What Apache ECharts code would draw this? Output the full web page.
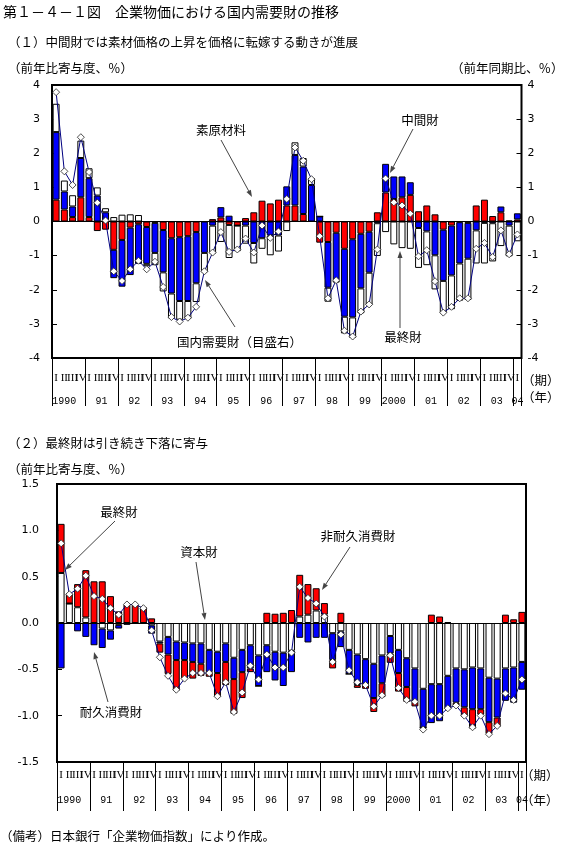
<!DOCTYPE html>
<html><head><meta charset="utf-8">
<script src="https://cdn.jsdelivr.net/npm/echarts@6/dist/echarts.min.js"></script>
<style>html,body{margin:0;padding:0;background:#fff}#c{width:577px;height:847px}</style>
</head><body><div id="c"></div>
<script>
// ---- data ----
const yearLabels = ['1990','91','92','93','94','95','96','97','98','99','2000','01','02','03','04'];
const quarterLabels = ['I','II','III','IV'];
const yTicks1 = [-4,-3,-2,-1,0,1,2,3,4];
const yTicks2 = [-1.5,-1.0,-0.5,0.0,0.5,1.0,1.5];

// panel (1): contributions to domestic demand goods (% pts)
const rawMaterials = [0.64,0.35,0.13,0.71, 0.13,-0.28,-0.24,-0.83, -0.54,-0.18,-0.08,-0.16, -0.04,-0.25,-0.49,-0.46, -0.43,-0.31,0,0.07, 0.12,-0.1,-0.12,0.1, 0.27,0.61,0.53,0.64, 0.47,0.47,0.22,0, -0.62,-0.6,-0.33,-0.8, -0.52,-0.36,-0.3,0.27, 0.85,0.66,0.71,0.78, 0.3,0.47,0.21,-0.24, -0.12,-0.02,-0.04,0.47, 0.64,0.16,0.27,0.03, 0.06];
const intermediate = [1.98,0.53,0.31,1.15, 1.14,0.76,0.27,-0.83, -1.37,-1.39,-1.16,-1.08, -0.88,-1.24,-1.62,-1.87, -1.9,-1.5,-0.92,-0.12, 0.3,0.17,0,-0.12, -0.63,-0.49,-0.41,-0.41, 0.56,1.48,1.39,1.07, 0.15,-1.34,-1.39,-1.99, -2.29,-1.6,-1.2,-0.05, 0.84,0.66,0.61,0.37, -0.19,-0.29,-0.99,-1.5, -1.46,-1.21,-1.05,-0.26, -0.04,-0.05,0.17,-0.12, 0.18];
const finalGoods1 = [0.83,0.32,0.33,0.51, 0.29,0.24,0.12,0.13, 0.2,0.21,0.19,-0.07, -0.36,-0.56,-0.73,-0.55, -0.52,-0.55,-0.57,-0.82, -0.6,-0.97,-0.75,-0.53, -0.6,-0.31,-0.58,-0.47, -0.28,0.37,0.25,0.2, 0,-0.41,-0.07,-0.49, -0.6,-0.73,-0.95,-0.96, -0.31,-0.67,-0.78,-0.8, -1.17,-0.99,-1.0,-0.94, -0.99,-1.09,-1.21,-0.97, -1.19,-1.12,-0.72,-0.9, -0.58];
const domesticDemand = [3.79,1.47,1.07,2.47, 1.45,0.55,0.03,-1.46, -1.74,-1.4,-1.15,-1.4, -1.18,-1.92,-2.8,-2.93, -2.82,-2.5,-1.46,-0.91, -0.31,-0.89,-0.82,-0.5, -0.91,-0.12,-0.48,-0.29, 0.66,2.17,1.78,1.24, -0.43,-2.25,-1.72,-3.2, -3.37,-2.64,-2.43,-0.82, 1.26,0.56,0.47,0.23, -1.02,-0.84,-1.75,-2.67, -2.5,-2.25,-2.25,-0.8, -0.63,-1.04,-0.26,-0.96, -0.38];

// panel (2): contributions to final goods (% pts)
const capitalGoods = [0.54,0.21,0.17,0.06, 0,-0.06,-0.08,-0.02, 0,0,0,-0.025, -0.2,-0.15,-0.2,-0.21, -0.22,-0.22,-0.29,-0.31, -0.22,-0.375,-0.29,-0.24, -0.35,-0.24,-0.31,-0.32, -0.3,0.07,0.09,0.135, 0.09,-0.11,-0.09,-0.29, -0.34,-0.39,-0.44,-0.35, -0.14,-0.29,-0.38,-0.49, -0.71,-0.66,-0.66,-0.57, -0.49,-0.5,-0.48,-0.49, -0.59,-0.6,-0.49,-0.48, -0.42];
const durableGoods = [-0.49,0,-0.09,-0.15, -0.24,-0.21,-0.1,-0.04, -0.02,-0.01,0,-0.09, -0.02,-0.19,-0.2,-0.19, -0.2,-0.22,-0.24,-0.23, -0.2,-0.23,-0.24,-0.25, -0.33,-0.29,-0.31,-0.36, -0.23,-0.16,-0.21,-0.16, -0.16,-0.29,-0.17,-0.26, -0.33,-0.27,-0.37,-0.3, -0.19,-0.25,-0.31,-0.36, -0.42,-0.42,-0.4,-0.36, -0.37,-0.41,-0.45,-0.44, -0.48,-0.42,-0.35,-0.38, -0.3];
const nonDurableGoods = [0.53,0.11,0.25,0.51, 0.45,0.45,0.29,0.125, 0.2,0.2,0.17,0.05, -0.1,-0.21,-0.33,-0.2, -0.18,-0.13,-0.05,-0.26, -0.25,-0.375,-0.28,-0.04, 0,0.11,0.1,0.11, 0.14,0.45,0.33,0.24, 0.125,-0.09,0.11,0, -0.03,-0.05,-0.15,-0.15, -0.1,-0.2,-0.16,-0.05, 0,0.09,0.07,0.01, -0.03,-0.1,-0.21,-0.06, -0.125,-0.1,0.09,0.04, 0.12];
const finalGoods2 = [0.86,0.31,0.37,0.51, 0.29,0.26,0.16,0.09, 0.2,0.2,0.16,-0.08, -0.37,-0.57,-0.72,-0.6, -0.54,-0.54,-0.54,-0.79, -0.64,-0.96,-0.75,-0.46, -0.61,-0.34,-0.48,-0.48, -0.32,0.39,0.27,0.21, 0.07,-0.42,-0.125,-0.51, -0.64,-0.67,-0.9,-0.78, -0.35,-0.7,-0.83,-0.85, -1.15,-1.0,-1.0,-0.92, -0.89,-1.0,-1.125,-1.0, -1.2,-1.11,-0.76,-0.83, -0.61];

// ---- build ----
const categories = [];
yearLabels.forEach(y => quarterLabels.forEach(q => { if (categories.length < 57) categories.push(y + '-' + q); }));

const JP = '"Noto Sans CJK JP"';
const chart = echarts.init(document.getElementById('c'), null, {renderer: 'canvas'});

function yearFmt(v, i) {
  const y = yearLabels[Math.floor(i / 4)];
  if (i === categories.length - 1 && i % 4 === 0) return '{b|' + y + '}';
  if (i % 4 !== 1) return '';
  return y.length > 2 ? '{b|' + y + '}' : '{a|' + y + '}';
}
function qAxis(grid, margin, tickLen) {
  return {gridIndex: grid, type: 'category', data: categories, position: 'bottom',
    axisLine: {show: false, onZero: false},
    axisTick: {show: true, interval: (i) => i % 4 === 0, length: tickLen, lineStyle: {color: '#000', width: 1}},
    axisLabel: {interval: 0, margin: margin, formatter: (v, i) => quarterLabels[i % 4],
      fontFamily: 'Liberation Serif', fontSize: 11, color: '#000'},
    splitLine: {show: false}};
}
function yAxisLbl(grid, margin) {
  return {gridIndex: grid, type: 'category', data: categories, position: 'bottom',
    axisLine: {show: false, onZero: false}, axisTick: {show: false}, splitLine: {show: false},
    axisLabel: {interval: 0, margin: margin, formatter: yearFmt, fontFamily: 'Liberation Mono', fontSize: 10, color: '#000',
      rich: {a: {padding: [0, 0, 0, 8.24], fontFamily: 'Liberation Mono', fontSize: 10, color: '#000'},
             b: {fontFamily: 'Liberation Mono', fontSize: 10, color: '#000'}}}};
}
function valAxis(grid, pos, min, max, interval, margin, fmt, ticks) {
  return {gridIndex: grid, type: 'value', position: pos, min: min, max: max, interval: interval,
    axisLine: {show: false, onZero: false}, splitLine: {show: false},
    axisTick: {show: ticks, inside: true, length: 5, lineStyle: {color: '#000'}},
    axisLabel: {margin: margin, fontFamily: 'DejaVu Sans', fontSize: 11, color: '#000', formatter: fmt}};
}
function bar(name, data, color, xi, yi, mark) {
  const s = {name: name, type: 'bar', data: data, stack: 's' + xi, xAxisIndex: xi, yAxisIndex: yi,
    barWidth: '84%', itemStyle: {color: color, borderColor: '#000', borderWidth: 1}, z: 2};
  if (mark) s.markLine = {silent: true, symbol: 'none', label: {show: false},
    lineStyle: {color: '#000', width: 1, type: 'solid'}, data: [{yAxis: 0}]};
  return s;
}
function line(name, data, xi, yi) {
  return {name: name, type: 'line', data: data, xAxisIndex: xi, yAxisIndex: yi, z: 5,
    showAllSymbol: true, symbol: 'diamond', symbolSize: 7,
    lineStyle: {color: '#000080', width: 1},
    itemStyle: {color: '#fff', borderColor: '#222', borderWidth: 0.8}};
}
function arrow(x1, y1, x2, y2) {
  const a = Math.atan2(y2 - y1, x2 - x1), L = 7, W = 2.5;
  const bx = x2 - L * Math.cos(a), by = y2 - L * Math.sin(a);
  const px = -Math.sin(a) * W, py = Math.cos(a) * W;
  return [{type: 'line', shape: {x1: x1, y1: y1, x2: bx, y2: by}, style: {stroke: '#444', lineWidth: 1}, z: 20},
          {type: 'polygon', shape: {points: [[x2, y2], [bx + px, by + py], [bx - px, by - py]]}, style: {fill: '#444'}, z: 20}];
}
function txt(t, x, y, size, align) {
  return {type: 'text', x: x, y: y, z: 20,
    style: {text: t, font: size + 'px ' + JP, fill: '#000', textAlign: align || 'left', textVerticalAlign: 'middle'}};
}

const graphics = [
  txt('第１－４－１図　企業物価における国内需要財の推移', 3, 12, 14),
  txt('（１）中間財では素材価格の上昇を価格に転嫁する動きが進展', 8, 42, 12.5),
  txt('（前年比寄与度、％）', 8, 68, 12.5),
  txt('（前年同期比、％）', 451, 68, 12.5),
  txt('（期）', 522, 380, 12.5),
  txt('（年）', 522, 397, 12.5),
  txt('素原材料', 221, 130, 12.5, 'center'),
  txt('中間財', 420, 120, 12.5, 'center'),
  txt('最終財', 403, 337, 12.5, 'center'),
  txt('国内需要財（目盛右）', 177, 342, 12.5),
  txt('（２）最終財は引き続き下落に寄与', 8, 443, 12.5),
  txt('（前年比寄与度、％）', 8, 469, 12.5),
  txt('（期）', 521, 775, 12.5),
  txt('（年）', 521, 800, 12.5),
  txt('最終財', 119, 512, 12.5, 'center'),
  txt('資本財', 199, 552, 12.5, 'center'),
  txt('耐久消費財', 111, 712, 12.5, 'center'),
  txt('非耐久消費財', 358, 536, 12.5, 'center'),
  txt('（備考）日本銀行「企業物価指数」により作成。', 0, 836, 12.5)
].concat(
  arrow(221, 140, 252, 197), arrow(413, 129, 390, 173), arrow(400, 328, 400, 251), arrow(235, 327, 205, 280),
  arrow(115, 521, 65, 570), arrow(196, 562, 205, 620), arrow(108, 702, 94, 652), arrow(350, 547, 322, 590)
);

const option = {
  animation: false,
  backgroundColor: '#fff',
  grid: [
    {left: 52, top: 85, width: 469.5, height: 273, show: true, borderColor: '#000', borderWidth: 2, backgroundColor: 'transparent'},
    {left: 57, top: 484, width: 469, height: 278, show: true, borderColor: '#000', borderWidth: 2, backgroundColor: 'transparent'}
  ],
  xAxis: [qAxis(0, 15, 48), yAxisLbl(0, 38), qAxis(1, 8, 49), yAxisLbl(1, 33)],
  yAxis: [
    valAxis(0, 'left', yTicks1[0], yTicks1[yTicks1.length - 1], 1, 12, v => String(v), true),
    valAxis(0, 'right', yTicks1[0], yTicks1[yTicks1.length - 1], 1, 6, v => String(v), true),
    valAxis(1, 'left', yTicks2[0], yTicks2[yTicks2.length - 1], 0.5, 18, v => v.toFixed(1), true)
  ],
  series: [
    bar('素原材料', rawMaterials, '#ff0000', 0, 0, true),
    bar('中間財', intermediate, '#0000ff', 0, 0),
    bar('最終財', finalGoods1, '#ffffff', 0, 0),
    line('国内需要財', domesticDemand, 0, 1),
    bar('資本財', capitalGoods, '#ffffff', 2, 2, true),
    bar('耐久消費財', durableGoods, '#0000ff', 2, 2),
    bar('非耐久消費財', nonDurableGoods, '#ff0000', 2, 2),
    line('最終財', finalGoods2, 2, 2)
  ],
  graphic: graphics
};
chart.setOption(option);
</script>
</body></html>
